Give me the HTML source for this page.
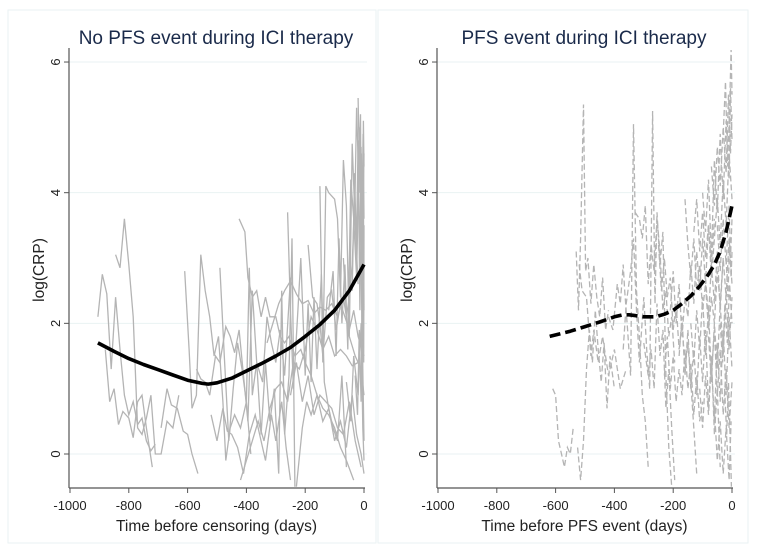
<!DOCTYPE html>
<html><head><meta charset="utf-8">
<style>
body{margin:0;background:#fff;}
svg{display:block;font-family:"Liberation Sans",sans-serif;}
</style></head>
<body>
<svg id="chart" width="757" height="553"></svg>
<script>
// Left panel: no PFS event (time before censoring)
const xTicks=[-1000,-800,-600,-400,-200,0];
const yTicks=[0,2,4,6];
const leftSeries=[
 [[-905,2.1],[-890,2.75],[-875,2.45],[-860,1.3],[-845,2.4],[-830,1.6],[-815,0.9],[-800,0.6],[-785,0.8],[-770,0.45],[-755,0.55],[-740,0.2],[-725,0.05],[-710,0.15]],
 [[-845,3.05],[-830,2.85],[-815,3.6],[-800,2.9],[-785,2.1],[-770,0.4],[-755,0.3],[-740,0.55],[-725,0.9],[-710,0.0],[-690,0.0],[-670,0.5],[-650,0.4],[-630,0.9]],
 [[-880,1.6],[-865,0.8],[-850,1.0],[-835,0.45],[-820,0.65],[-800,0.55],[-785,0.25],[-770,0.8],[-755,0.9],[-740,0.4],[-720,-0.2]],
 [[-690,0.4],[-670,1.0],[-655,0.75],[-635,0.7],[-615,0.35],[-600,0.3],[-585,0.0],[-565,-0.3]],
 [[-610,2.8],[-595,1.6],[-585,0.7],[-570,0.9],[-555,3.05],[-540,2.5],[-525,2.1],[-510,1.5],[-495,1.8],[-480,0.8],[-470,-0.1],[-455,0.4],[-440,0.6],[-420,0.4],[-400,0.8],[-385,0.0]],
 [[-570,1.3],[-555,1.15],[-540,1.1],[-525,0.9],[-505,1.5],[-490,1.4],[-470,1.95],[-455,1.8],[-440,1.55],[-425,1.9],[-410,1.2],[-395,0.5],[-380,2.5],[-365,1.4],[-345,1.1],[-330,2.1],[-315,1.7],[-300,1.4],[-285,1.9],[-270,1.2],[-250,2.7]],
 [[-425,3.6],[-405,3.4],[-395,2.7],[-380,2.4],[-365,2.5],[-350,2.1],[-335,2.4],[-320,2.1],[-300,2.1],[-285,1.8],[-270,1.7],[-255,1.8],[-235,1.5],[-215,1.6],[-200,1.4],[-180,1.2],[-160,0.9],[-140,0.7],[-120,0.6],[-100,0.4],[-80,0.1],[-60,-0.1],[-35,-0.4]],
 [[-520,0.6],[-500,0.2],[-480,0.7],[-465,0.35],[-450,0.3],[-430,0.1],[-410,-0.3],[-390,0.3],[-370,0.6],[-355,0.3],[-335,-0.1],[-315,0.6],[-300,0.2],[-280,0.8],[-265,0.1],[-250,-0.4]],
 [[-490,2.85],[-475,1.5],[-460,0.2],[-445,1.0],[-430,1.7],[-415,1.3],[-400,0.8],[-390,2.85],[-380,0.9],[-365,1.4],[-350,0.3],[-335,1.4],[-320,0.5],[-305,1.0],[-290,-0.3],[-280,2.5],[-270,0.3],[-255,1.2],[-245,3.3],[-235,-0.5]],
 [[-420,-0.4],[-400,-0.1],[-380,0.2],[-360,0.5],[-340,0.2],[-320,0.7],[-300,1.0],[-280,1.1],[-260,0.8],[-240,1.4],[-220,1.3],[-200,1.6],[-180,2.1],[-160,1.9],[-140,1.6],[-120,1.8],[-100,1.5],[-80,1.6],[-60,1.5],[-40,1.35],[-20,1.4]],
 [[-330,1.7],[-310,2.0],[-290,2.3],[-270,2.5],[-250,2.65],[-230,2.45],[-210,2.3],[-190,2.35],[-170,2.15],[-150,2.25],[-130,2.2],[-110,2.3],[-90,2.1],[-70,2.4],[-50,1.8],[-30,1.5],[-10,1.3],[0,0.9]],
 [[-260,3.7],[-250,2.2],[-240,1.0],[-225,2.2],[-215,3.0],[-200,1.2],[-190,2.3],[-180,1.1],[-170,2.4],[-160,1.3],[-145,2.75],[-135,1.1],[-120,0.7],[-105,0.4],[-90,0.2],[-75,1.2],[-60,-0.2]],
 [[-250,0.9],[-230,1.4],[-210,0.8],[-190,1.2],[-170,0.6],[-150,0.9],[-130,0.8],[-110,0.7],[-90,0.4],[-70,0.3],[-50,0.8],[-30,0.2],[-10,-0.2]],
 [[-230,-0.5],[-210,0.4],[-195,0.8],[-180,0.6],[-160,0.9],[-140,0.5],[-120,0.7],[-100,0.2],[-80,0.5],[-60,0.1],[-40,0.9],[-25,0.3],[-10,0.0],[0,-0.3]],
 [[-190,3.2],[-175,2.4],[-160,2.3],[-150,2.0],[-140,1.5],[-125,2.4],[-110,2.5],[-95,1.9],[-80,2.3],[-65,2.1],[-50,1.9],[-35,2.2],[-20,1.8],[0,1.5]],
 [[-150,4.1],[-140,1.4],[-130,4.1],[-120,4.0],[-100,3.9],[-90,3.6],[-80,2.4],[-70,4.5],[-60,3.8],[-50,1.8],[-40,4.75],[-30,3.5],[-20,2.6]],
 [[-120,2.2],[-105,2.8],[-95,1.5],[-85,3.3],[-75,2.0],[-65,2.9],[-55,1.6],[-45,4.2],[-35,3.6],[-25,2.7],[-15,5.0],[-8,3.2],[-3,4.9],[0,2.2]],
 [[-70,3.0],[-60,2.1],[-50,2.4],[-40,2.9],[-30,4.1],[-25,5.3],[-18,4.2],[-12,5.2],[-6,1.0],[-2,4.6],[0,3.6]],
 [[-40,2.5],[-32,4.3],[-26,3.1],[-20,4.8],[-14,2.2],[-9,3.9],[-4,1.3],[0,0.2]],
 [[-20,5.45],[-14,4.0],[-9,4.6],[-5,2.8],[-2,5.1],[0,4.4]],
 [[-30,1.2],[-22,0.6],[-16,1.9],[-10,0.8],[-5,2.6],[-1,1.4],[0,3.5]],
 [[-60,1.1],[-45,0.5],[-35,1.5],[-20,0.9],[-10,2.0],[-4,0.4],[0,-0.1]],
 [[-15,3.0],[-10,4.7],[-6,2.5],[-3,3.8],[0,4.6]]
];
const leftFitX=[-905,-850,-800,-750,-700,-650,-600,-550,-530,-500,-450,-400,-350,-300,-250,-200,-150,-100,-50,0];
const leftFitY=[1.7,1.57,1.46,1.37,1.29,1.21,1.13,1.08,1.07,1.09,1.16,1.27,1.38,1.5,1.63,1.8,1.98,2.2,2.5,2.9];

// Right panel: PFS event (time before PFS event)
const rightSeries=[
 [[-610,1.0],[-600,0.9],[-590,0.2],[-580,0.0],[-570,-0.2],[-560,0.1],[-550,0.0],[-540,0.4]],
 [[-530,3.1],[-522,2.2],[-515,3.3],[-505,5.35],[-498,2.8],[-490,3.0],[-480,2.3],[-470,2.9],[-460,2.4],[-450,2.1],[-440,2.7],[-430,1.9],[-420,2.2]],
 [[-525,0.1],[-515,-0.4],[-505,0.2],[-495,1.3],[-485,1.9],[-475,1.4],[-465,2.2],[-455,1.6],[-445,1.1],[-435,1.7],[-425,0.7],[-415,1.5],[-400,1.0]],
 [[-520,2.9],[-510,2.5],[-495,2.4],[-480,1.5],[-470,1.9],[-455,1.4],[-440,1.8],[-420,1.2],[-400,1.6],[-380,1.0],[-360,1.3]],
 [[-420,2.1],[-405,1.9],[-390,2.6],[-380,2.3],[-370,2.9],[-365,2.5],[-355,1.9],[-345,1.2],[-335,5.05],[-325,2.5],[-315,1.8],[-305,0.9],[-295,0.5],[-285,-0.2]],
 [[-370,1.6],[-360,2.3],[-345,2.8],[-335,3.3],[-325,2.2],[-315,1.4],[-300,2.4],[-290,1.6],[-280,1.0],[-270,5.25],[-262,2.3],[-255,3.7],[-245,2.9],[-235,3.4],[-225,1.2],[-215,0.1],[-205,-0.5]],
 [[-330,3.7],[-315,3.6],[-305,3.3],[-295,3.8],[-285,2.6],[-275,3.2],[-265,2.8],[-255,3.6],[-245,3.1],[-235,2.2],[-225,2.5],[-215,1.8],[-205,2.1],[-195,1.4]],
 [[-300,1.7],[-285,1.2],[-275,1.6],[-265,1.0],[-255,2.3],[-245,1.5],[-235,1.9],[-225,0.7],[-215,1.3],[-205,0.4],[-195,-0.4]],
 [[-250,3.2],[-240,2.5],[-230,3.0],[-220,2.4],[-210,2.7],[-200,1.9],[-190,2.3],[-180,1.6],[-170,2.0],[-160,1.3],[-150,1.7],[-140,1.1],[-130,0.4],[-120,-0.3]],
 [[-230,1.2],[-220,1.8],[-210,1.0],[-200,1.5],[-190,0.8],[-180,1.3],[-170,0.9],[-160,1.6],[-150,1.0],[-140,1.4],[-130,0.6],[-120,1.2],[-110,0.5],[-100,0.8]],
 [[-210,2.2],[-200,2.8],[-190,2.0],[-180,2.6],[-170,1.8],[-160,2.4],[-150,2.1],[-140,2.9],[-130,2.3],[-120,3.1],[-110,2.5],[-100,3.3],[-90,2.6],[-80,3.5],[-70,2.9],[-60,3.6]],
 [[-180,1.5],[-170,2.1],[-160,1.2],[-150,1.9],[-140,1.0],[-130,1.6],[-120,0.9],[-110,1.8],[-100,1.1],[-90,1.9],[-80,0.7],[-70,1.5],[-60,0.3],[-50,1.0],[-40,-0.2]],
 [[-160,3.9],[-150,3.2],[-140,2.7],[-130,3.3],[-120,2.5],[-110,2.9],[-100,2.2],[-90,2.6],[-80,1.9],[-70,2.4],[-60,2.0],[-50,2.8],[-40,2.3],[-30,3.0]],
 [[-140,2.0],[-130,1.4],[-120,2.2],[-110,1.6],[-100,2.4],[-90,1.5],[-80,2.2],[-70,1.2],[-60,1.9],[-50,0.9],[-40,1.6],[-30,0.6],[-20,1.3],[-10,0.4],[0,1.1]],
 [[-130,3.4],[-120,3.9],[-110,3.1],[-100,3.7],[-90,3.0],[-80,3.5],[-70,2.7],[-60,3.3],[-50,3.9],[-40,3.2],[-30,4.2],[-20,3.5],[-10,4.6],[0,3.9]],
 [[-110,1.0],[-100,0.4],[-90,1.2],[-80,0.6],[-70,1.4],[-60,0.5],[-50,1.7],[-40,0.8],[-30,1.9],[-20,0.9],[-10,2.1],[0,1.3]],
 [[-100,4.0],[-90,3.4],[-80,4.2],[-70,3.0],[-60,4.5],[-50,3.7],[-40,4.9],[-30,3.9],[-20,5.1],[-10,4.2],[-5,5.6],[0,4.8]],
 [[-90,2.7],[-80,2.1],[-70,2.9],[-60,2.3],[-50,3.1],[-40,2.2],[-30,3.0],[-20,2.4],[-10,3.3],[0,2.6]],
 [[-80,1.8],[-70,1.1],[-60,2.0],[-50,1.3],[-40,2.3],[-30,1.5],[-20,2.5],[-10,1.6],[0,2.4]],
 [[-70,4.4],[-60,3.8],[-50,4.7],[-40,4.1],[-30,5.0],[-20,4.3],[-12,5.5],[-5,4.6],[0,5.2]],
 [[-60,0.7],[-50,-0.1],[-40,0.5],[-30,-0.3],[-20,0.4],[-10,-0.4],[-3,0.5]],
 [[-50,3.5],[-40,2.8],[-30,3.6],[-20,2.9],[-10,3.8],[-5,3.0],[0,3.6]],
 [[-40,2.0],[-32,1.4],[-24,2.3],[-16,1.7],[-8,2.6],[0,2.0]],
 [[-30,4.9],[-22,5.7],[-15,4.4],[-8,5.3],[-3,6.2],[0,5.5]],
 [[-25,1.0],[-18,0.3],[-12,1.1],[-6,0.2],[-2,-0.5]],
 [[-20,3.0],[-14,2.4],[-8,3.2],[-3,2.7],[0,3.1]]
];
const rightFitX=[-620,-550,-500,-450,-400,-370,-350,-300,-260,-230,-200,-170,-140,-110,-80,-60,-40,-20,0];
const rightFitY=[1.8,1.88,1.95,2.02,2.1,2.13,2.13,2.1,2.1,2.14,2.2,2.3,2.42,2.57,2.75,2.9,3.1,3.4,3.8];

const NS="http://www.w3.org/2000/svg";
const svg=document.getElementById('chart');
function el(t,a,p){const e=document.createElementNS(NS,t);for(const k in a)e.setAttribute(k,a[k]);(p||svg).appendChild(e);return e;}
const Y0=454, YU=65.33, YBOT=488, YTOP=50;
function yS(v){return Y0-v*YU;}

function panel(opt){
  const xS=v=>opt.x0+v*0.294;
  const g=el('g',{});
  
  
  const bg=el('rect',{x:opt.bx,y:10,width:opt.bw,height:533,fill:'#fff',stroke:'#eaf2f3','stroke-width':1},g);
  
  
  const t=el('text',{x:opt.tx,y:44,'text-anchor':'middle','font-size':19,fill:'#1a2a4a'},g);
  t.textContent=opt.title;
  
  
  // gridlines
  yTicks.forEach(v=>{
    const gl=el('line',{x1:opt.ax,x2:opt.x0+3,y1:yS(v),y2:yS(v),stroke:'#eaf2f3','stroke-width':1},g);
    
    
    const tk=el('line',{x1:opt.ax-5,x2:opt.ax,y1:yS(v),y2:yS(v),stroke:'#555'},g);
    
    
    const tl=el('text',{x:0,y:0,transform:`translate(${opt.ax-9},${yS(v)}) rotate(-90)`,'text-anchor':'middle','font-size':13,fill:'#222'},g);
    tl.textContent=v;
    
    
  });
  const clipId='clip'+opt.name;
  const cp=el('clipPath',{id:clipId},g);
  el('rect',{x:opt.ax,y:YTOP,width:opt.x0+6-opt.ax,height:YBOT-YTOP},cp);
  const sg=el('g',{'clip-path':`url(#${clipId})`},g);
  opt.series.forEach(s=>{
    const p=el('polyline',{points:s.map(d=>xS(d[0]).toFixed(1)+','+yS(d[1]).toFixed(1)).join(' '),fill:'none',stroke:'#b4b4b4','stroke-width':1.3,'stroke-dasharray':opt.dash?'6 3':'none'},sg);
    
    
  });
  const f=el('polyline',{points:opt.fx.map((x,i)=>xS(x).toFixed(1)+','+yS(opt.fy[i]).toFixed(1)).join(' '),fill:'none',stroke:'#000','stroke-width':3.6,'stroke-linejoin':'round','stroke-dasharray':opt.dash?'11 5':'none'},sg);
  
  
  // axes
  const ya=el('line',{x1:opt.ax,x2:opt.ax,y1:48,y2:YBOT,stroke:'#555','stroke-width':1.2},g);
  
  
  const xa=el('line',{x1:opt.ax,x2:opt.x0+1,y1:YBOT,y2:YBOT,stroke:'#555','stroke-width':1.2},g);
  
  
  xTicks.forEach(v=>{
    const tk=el('line',{x1:xS(v),x2:xS(v),y1:YBOT,y2:YBOT+5,stroke:'#555'},g);
    
    
    const tl=el('text',{x:xS(v),y:YBOT+22,'text-anchor':'middle','font-size':13,fill:'#222'},g);
    tl.textContent=v;
    
    
  });
  const xt=el('text',{x:(opt.ax+opt.x0)/2,y:531,'text-anchor':'middle','font-size':15.5,fill:'#222'},g);
  xt.textContent=opt.xlabel;
  
  
  const yt=el('text',{x:0,y:0,transform:`translate(${opt.ax-25},270) rotate(-90)`,'text-anchor':'middle','font-size':15.5,fill:'#222'},g);
  yt.textContent='log(CRP)';
  
  
}
panel({name:'left-panel',bx:8,bw:368,ax:69,x0:364,tx:216,title:'No PFS event during ICI therapy',xlabel:'Time before censoring (days)',series:leftSeries,fx:leftFitX,fy:leftFitY,dash:false});
panel({name:'right-panel',bx:378,bw:370,ax:437,x0:732,tx:584,title:'PFS event during ICI therapy',xlabel:'Time before PFS event (days)',series:rightSeries,fx:rightFitX,fy:rightFitY,dash:true});
</script>
</body></html>
